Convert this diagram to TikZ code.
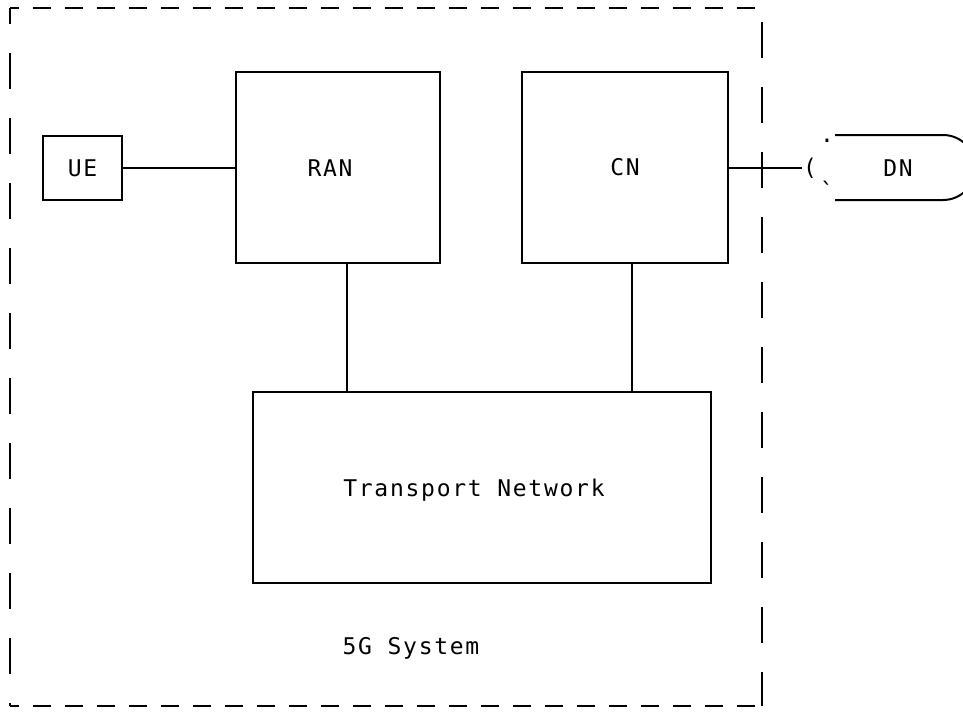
\documentclass[tikz,border=0pt]{standalone}
\usepackage{fontspec}
\setmonofont{DejaVu Sans Mono}[LetterSpace=7.5]
\begin{document}
\begin{tikzpicture}[x=1pt,y=-1pt, line width=2pt,
  font=\ttfamily\fontsize{23}{28}\selectfont,
  box/.style={draw, rectangle, inner sep=0pt},
  txt/.style={inner sep=0pt},
  hdash/.style={dash pattern=on 18pt off 14pt},
  vdash/.style={dash pattern=on 36pt off 29pt}]
\useasboundingbox (0,0) rectangle (963,713);
% outer 5G system boundary
\coordinate (otl) at (10,8);
\coordinate (otr) at (762,8);
\coordinate (obl) at (10,706);
\coordinate (obr) at (762,706);
\draw[hdash, dash phase=9pt] (otl) -- (otr);
\draw[vdash, dash phase=20pt] (otl) -- (obl);
\draw[hdash, dash phase=9pt] (obl) -- (obr);
\draw[vdash, dash phase=51pt] (otr) -- (obr);
% boxes
\node[box, minimum width=79pt, minimum height=64pt] (ue) at (82.5,168) {UE};
\node[box, minimum width=204pt, minimum height=191pt] (ran) at (338,167.5) {};
\node[txt] (ranlabel) at (330,168) {RAN};
\node[box, minimum width=206pt, minimum height=191pt] (cn) at (625,167.5) {CN};
\node[box, minimum width=458pt, minimum height=191pt] (tn) at (482,487.5) {};
\node[txt] (tnlabel) at (474,490) {Transport Network};
\node[txt] (sys) at (411,648) {5G System};
% DN
\node[txt] (paren) at (810,168) {(};
\node[txt] (dn) at (898,168) {DN};
\node[txt] (dndot) at (827,141) {.};
\node[txt] (dntick) at (827,190) {`};
\coordinate (dntop) at (835,135);
\coordinate (dnbot) at (835,200);
\draw (dntop) -- (943,135) arc[start angle=-90, end angle=90, radius=32.5] -- (dnbot);
% connectors
\draw (ue.east) -- (ue.east -| ran.west);
\draw (cn.east) -- (cn.east -| paren.west);
\draw ([xshift=9pt]ran.south) -- ([xshift=9pt]ran.south |- tn.north);
\draw ([xshift=7pt]cn.south) -- ([xshift=7pt]cn.south |- tn.north);
\end{tikzpicture}
\end{document}
